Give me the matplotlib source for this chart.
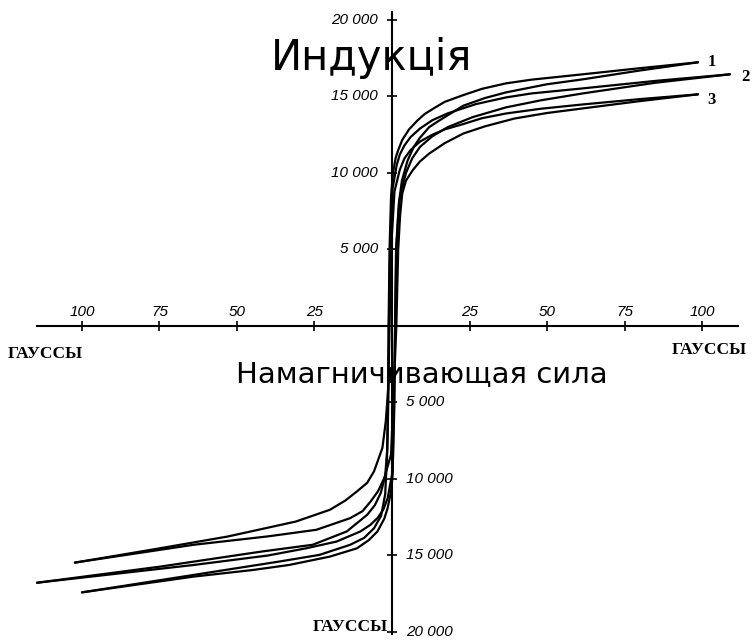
import matplotlib.pyplot as plt

# field strength (gauss) and induction (gauss)
# each curve = two branches running tip to tip through the origin region

h1_a = [98.7, 80, 61.5, 45, 36.8, 29, 22.7, 17, 14, 10.5, 8.2, 5.5, 3.3, 2.0, 1.2, 0.3,
        -0.3, -0.8, -1.1, -1.3, -1.6, -2.2, -3.5, -5.8, -9, -13.5, -23.4, -36.5, -64, -100]
b1_a = [17235, 16850, 16450, 16100, 15860, 15500, 15070, 14650, 14290, 13850, 13430, 12850,
        12160, 11500, 11000, 10000, 8500, 5000, 0, -5000, -8500, -11000, -12400, -13220,
        -13850, -14300, -14960, -15400, -16270, -17410]
h1_b = [-100, -64, -45, -33.2, -20, -11.3, -7.5, -4.7, -2.5, -1.4, -0.3, 0.2, 0.6, 1.0, 1.3,
        2.2, 3.2, 5, 7, 9, 12, 15, 23, 30, 36.8, 50, 61.5, 80, 98.7]
b1_b = [-17410, -16380, -15950, -15620, -15070, -14530, -14000, -13430, -12600, -11900,
        -10800, -9720, -5000, 0, 5000, 8000, 9500, 10800, 11700, 12300, 13000, 13400, 14400,
        14900, 15270, 15800, 16120, 16700, 17235]

h2_a = [109, 85, 61.5, 45, 36.8, 27, 18, 13, 9, 6, 4, 2.5, 1.5, 0.2, -0.6, -1.0, -1.2, -1.5,
        -2.2, -3.6, -5.5, -8, -14.6, -25.6, -42, -74.9, -114.5]
b2_a = [16450, 16020, 15530, 15200, 14940, 14500, 13900, 13450, 12900, 12350, 11800, 11200,
        10500, 9000, 5000, 0, -5000, -8000, -9800, -10900, -11700, -12340, -13430, -14300,
        -14740, -15730, -16780]
h2_b = [-114.5, -64, -40, -27.7, -17.9, -10.2, -7, -4.7, -2.8, -1.4, 0.2, 0.8, 1.0, 1.4, 2.0,
        2.6, 4.5, 6.5, 9, 13, 18, 26, 36.8, 48, 61.5, 85, 109]
b2_b = [-16780, -15620, -15000, -14530, -14090, -13430, -13000, -12560, -12000, -11250, -9500,
        -5000, 0, 5000, 7200, 8500, 10000, 10950, 11700, 12400, 13000, 13650, 14290, 14750,
        15200, 15900, 16450]

h3_a = [98.7, 80, 61.5, 48, 36.8, 29, 23, 17, 13, 9, 6, 4, 2.5, 0.8, -0.3, -0.8, -1.2, -2,
        -3.1, -5.8, -8, -11.3, -15, -20, -31, -53, -74.9, -102.3]
b3_a = [15140, 14830, 14480, 14200, 13890, 13580, 13200, 12850, 12500, 12050, 11500, 10950,
        10200, 8800, 5000, 0, -4000, -6225, -7975, -9500, -10250, -10810, -11400, -12010,
        -12780, -13760, -14530, -15465]
h3_b = [-102.3, -64, -40, -24.4, -13.5, -9.5, -6.9, -4.5, -2.5, -0.3, 0.6, 1.4, 2, 2.6, 3.3,
        4.5, 6.6, 9, 12, 17, 23, 30, 39.5, 50, 61.5, 80, 98.7]
b3_b = [-15465, -14300, -13750, -13320, -12560, -12100, -11470, -10800, -9940, -8400, -4000,
        0, 5000, 7200, 8650, 9500, 10160, 10750, 11270, 11950, 12580, 13050, 13560, 13920,
        14220, 14700, 15140]

curve_names = ['1', '2', '3']
x_ticks = [-100, -75, -50, -25, 25, 50, 75, 100]
y_ticks = [-20000, -15000, -10000, -5000, 5000, 10000, 15000, 20000]

W, H = 753, 642
fig = plt.figure(figsize=(W / 100, H / 100), dpi=100)
ax = fig.add_axes([0, 0, 1, 1])
ax.set_xlim(-126.45, 116.45)
ax.set_ylim(-20654, 21307)


def fpos(px, py):
    # pixel position (from top-left) -> figure fraction
    return px / W, 1 - py / H


# axes crossing at the origin
for side in ['top', 'right']:
    ax.spines[side].set_visible(False)
ax.spines['left'].set_position(('data', 0))
ax.spines['bottom'].set_position(('data', 0))
ax.spines['left'].set_bounds(-20100, 20500)
ax.spines['bottom'].set_bounds(-114.5, 111.6)
ax.spines['left'].set_linewidth(1.5)
ax.spines['bottom'].set_linewidth(1.5)
ax.set_xticks(x_ticks)
ax.set_yticks(y_ticks)
ax.tick_params(direction='inout', length=7, width=1.2, labelbottom=False, labelleft=False)

tick_font = dict(family='Liberation Sans', style='italic', fontsize=11)
for v in x_ticks:
    ax.annotate(str(abs(v)), (v, 0), xytext=(0, 5), textcoords='offset points',
                ha='center', va='bottom', **tick_font)
for v in y_ticks:
    lab = f'{abs(v):,}'.replace(',', ' ')
    if v > 0:
        ax.annotate(lab, (0, v), xytext=(-10, 0), textcoords='offset points',
                    ha='right', va='center', **tick_font)
    else:
        ax.annotate(lab, (0, v), xytext=(10, 0), textcoords='offset points',
                    ha='left', va='center', **tick_font)

# the curves
line_kw = dict(color='black', lw=1.6, solid_capstyle='round', solid_joinstyle='round')
ax.plot(h1_a, b1_a, **line_kw)
ax.plot(h1_b, b1_b, **line_kw)
ax.plot(h2_a, b2_a, **line_kw)
ax.plot(h2_b, b2_b, **line_kw)
ax.plot(h3_a, b3_a, **line_kw)
ax.plot(h3_b, b3_b, **line_kw)

num_font = dict(family='Liberation Serif', weight='bold', fontsize=12)
ax.annotate(curve_names[0], (h1_a[0], b1_a[0]), xytext=(7, 0), textcoords='offset points',
            ha='left', va='center', **num_font)
ax.annotate(curve_names[1], (h2_a[0], b2_a[0]), xytext=(8, -2), textcoords='offset points',
            ha='left', va='center', **num_font)
ax.annotate(curve_names[2], (h3_a[0], b3_a[0]), xytext=(7, -4), textcoords='offset points',
            ha='left', va='center', **num_font)

# titles and units
fig.text(*fpos(372, 58), 'Индукція', fontsize=30, family='DejaVu Sans',
         ha='center', va='center')
fig.text(*fpos(422, 374), 'Намагничивающая сила', fontsize=21, family='DejaVu Sans',
         ha='center', va='center')
unit_font = dict(family='Liberation Serif', weight='bold', fontsize=12.5)
fig.text(*fpos(45, 354), 'ГАУССЫ', ha='center', va='center', **unit_font)
fig.text(*fpos(709, 350), 'ГАУССЫ', ha='center', va='center', **unit_font)
fig.text(*fpos(350, 627), 'ГАУССЫ', ha='center', va='center', **unit_font)

fig.savefig('out.png', dpi=100)
